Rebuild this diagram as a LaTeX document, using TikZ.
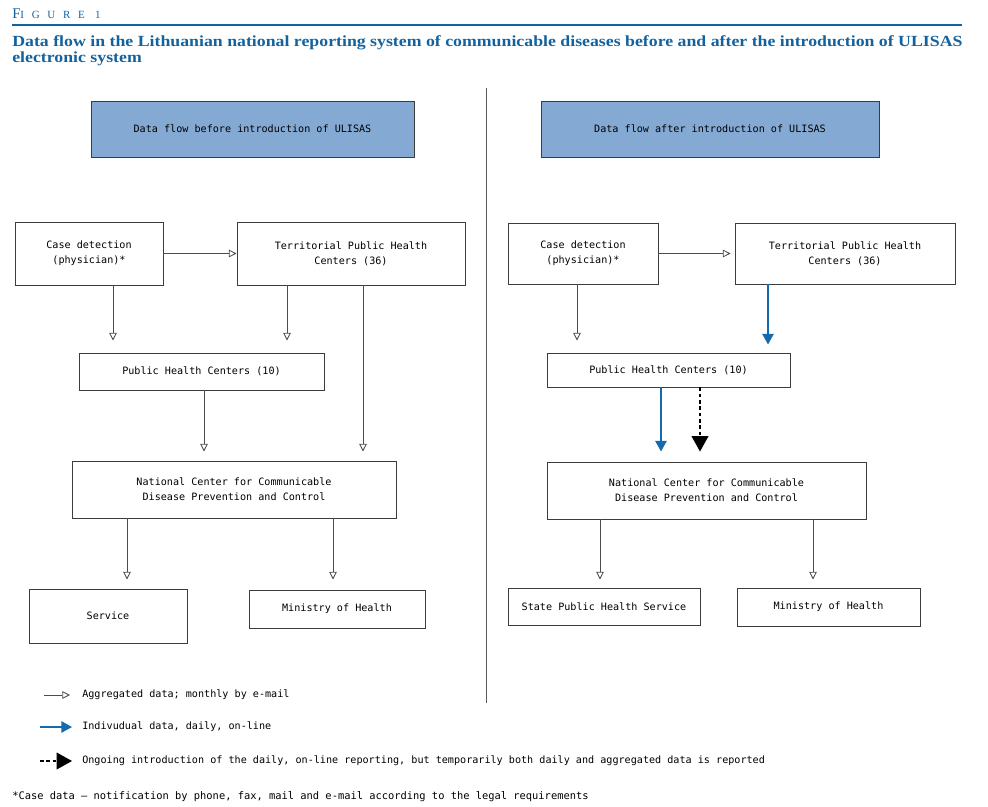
\documentclass[tikz,border=0pt]{standalone}
\usepackage{fontspec}
\setmainfont{Liberation Serif}
\setmonofont{DejaVu Sans Mono}
\newfontfamily\capsfont[LetterSpace=70]{Liberation Serif}
\newfontfamily\titlefont[FakeStretch=1.15]{Liberation Serif}
\usetikzlibrary{arrows.meta}
\definecolor{titleblue}{RGB}{18,98,160}
\definecolor{headfill}{RGB}{132,169,211}
\definecolor{flowblue}{RGB}{20,106,172}
\definecolor{boxline}{RGB}{60,60,60}

\begin{document}
\begin{tikzpicture}
  [x=0.025cm,y=-0.025cm,
   every node/.style={font=\ttfamily\fontsize{7.2}{10.7}\selectfont,align=center,inner sep=0pt},
   box/.style={draw=boxline,line width=0.7pt},
   sz/.style 2 args={minimum width=#1*0.025cm,minimum height=#2*0.025cm},
   agg/.style={draw=black!70,line width=0.6pt,-{Triangle[open,length=5.5pt,width=5.5pt]}},
   ind/.style={draw=flowblue,line width=1.1pt,-{Triangle[length=7.5pt,width=8pt]}},
   mix/.style={draw=black,line width=1pt,dash pattern=on 2.5pt off 2pt,-{Triangle[length=11pt,width=12pt]}}]
  \useasboundingbox (0,0) rectangle (988,807);

  % heading
  \node[anchor=base west,text=titleblue] (fig) at (12,19)
    {\capsfont\fontsize{10.5}{10}\selectfont F\fontsize{7.8}{10}\selectfont IGURE 1};
  \draw[titleblue,line width=1.4pt] (12,25) -- (962,25);
  \node[anchor=base west,align=left,text=titleblue,font=\titlefont\bfseries\fontsize{11}{11.6}\selectfont] (ttl) at (12,63)
    {Data flow in the Lithuanian national reporting system of communicable diseases before and after the introduction of ULISAS\\electronic system};

  \draw[black!65,line width=0.6pt] (486,88) -- (486,703);

  % before
  \node[box,fill=headfill,sz={323}{56}] (headL) at (252.5,129) {Data flow before introduction of ULISAS};
  \node[box,sz={148}{63}] (caseL) at (89,253.5) {Case detection\\(physician)*};
  \node[box,sz={228}{63}] (terrL) at (351,253.5) {Territorial Public Health\\Centers (36)};
  \node[box,sz={245}{37}] (phcL) at (201.5,371.5) {Public Health Centers (10)};
  \node[box,sz={324}{57}] (ncL) at (234,489.5) {National Center for Communicable\\Disease Prevention and Control};
  \node[box,sz={158}{54}] (servL) at (108,616) {Service};
  \node[box,sz={176}{38}] (minL) at (337,609) {Ministry of Health};

  \draw[agg] (caseL) -- (terrL);
  \draw[agg,shorten >=0.3cm] (caseL.south -| 113,0) -- (phcL.north -| 113,0);
  \draw[agg,shorten >=0.3cm] (terrL.south -| 287,0) -- (phcL.north -| 287,0);
  \draw[agg,shorten >=0.225cm] (terrL.south -| 363,0) -- (ncL.north -| 363,0);
  \draw[agg,shorten >=0.225cm] (phcL.south -| 204,0) -- (ncL.north -| 204,0);
  \draw[agg,shorten >=0.225cm] (ncL.south -| 127,0) -- (servL.north -| 127,0);
  \draw[agg,shorten >=0.25cm] (ncL.south -| 333,0) -- (minL.north -| 333,0);

  % after
  \node[box,fill=headfill,sz={338}{56}] (headR) at (710,129) {Data flow after introduction of ULISAS};
  \node[box,sz={150}{61}] (caseR) at (583,253.5) {Case detection\\(physician)*};
  \node[box,sz={220}{61}] (terrR) at (845,253.5) {Territorial Public Health\\Centers (36)};
  \node[box,sz={243}{34}] (phcR) at (668.5,370) {Public Health Centers (10)};
  \node[box,sz={319}{57}] (ncR) at (706.5,490.5) {National Center for Communicable\\Disease Prevention and Control};
  \node[box,sz={192}{37}] (stateR) at (604,606.5) {State Public Health Service};
  \node[box,sz={183}{38}] (minR) at (828.5,607) {Ministry of Health};

  \draw[agg,shorten >=0.1cm] (caseR) -- (terrR);
  \draw[agg,shorten >=0.3cm] (caseR.south -| 577,0) -- (phcR.north -| 577,0);
  \draw[ind,shorten >=0.2cm] (terrR.south -| 768,0) -- (phcR.north -| 768,0);
  \draw[ind,shorten >=0.25cm] (phcR.south -| 661,0) -- (ncR.north -| 661,0);
  \draw[mix,shorten >=0.25cm] (phcR.south -| 700,0) -- (ncR.north -| 700,0);
  \draw[agg,shorten >=0.2cm] (ncR.south -| 600,0) -- (stateR.north -| 600,0);
  \draw[agg,shorten >=0.2cm] (ncR.south -| 813,0) -- (minR.north -| 813,0);

  % legend
  \node[anchor=west] (lg1) at (82,695) {Aggregated data; monthly by e-mail};
  \node[anchor=west] (lg2) at (82,727) {Indivudual data, daily, on-line};
  \node[anchor=west] (lg3) at (82,761) {Ongoing introduction of the daily, on-line reporting, but temporarily both daily and aggregated data is reported};
  \coordinate (lg1s) at (44,695);
  \coordinate (lg2s) at (40,727);
  \coordinate (lg3s) at (40,761);
  \draw[agg,shorten >=0.3cm] (lg1s) -- (lg1.west);
  \draw[ind,shorten >=0.25cm] (lg2s) -- (lg2.west);
  \draw[mix,shorten >=0.25cm] (lg3s) -- (lg3.west);

  \node[anchor=west,font=\ttfamily\fontsize{7.4}{10}\selectfont] (note) at (12,797)
    {*Case data – notification by phone, fax, mail and e-mail according to the legal requirements};
\end{tikzpicture}
\end{document}
